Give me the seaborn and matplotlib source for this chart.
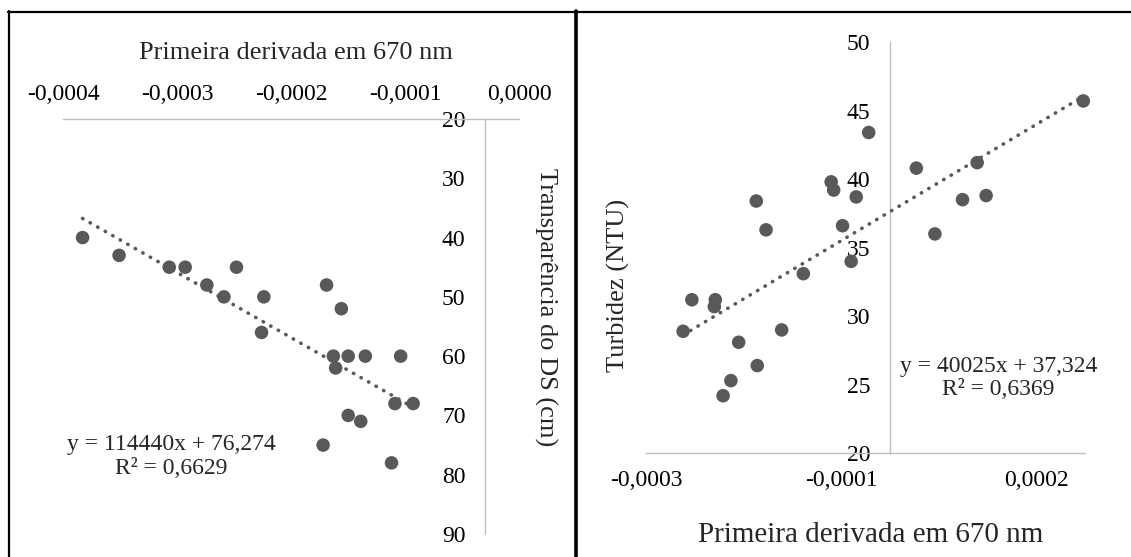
import numpy as np
import pandas as pd
import matplotlib
matplotlib.use("Agg")
import matplotlib.pyplot as plt
from matplotlib.lines import Line2D
import seaborn as sns

# ---------------- data ----------------
# Left panel: first derivative at 670 nm vs Secchi transparency (cm)
ds_deriv = [-0.000353, -0.000321, -0.000277, -0.000263, -0.000218, -0.000244,
            -0.000229, -0.000194, -0.000139, -0.000126, -0.000196, -0.000133,
            -0.000120, -0.000105, -0.000074, -0.000131, -0.000079, -0.000063,
            -0.000120, -0.000109, -0.000142, -0.000082]
ds_transp = [40, 43, 45, 45, 45, 48, 50, 50, 48, 52, 56, 60,
             60, 60, 60, 62, 68, 68, 70, 71, 75, 78]

# Right panel: first derivative at 670 nm vs turbidity (NTU)
tb_deriv = [-0.0000218, 0.000198, 0.000027, 0.0000893, -0.0000603, -0.0000577,
            -0.0000346, -0.000137, 0.0000743, 0.0000985, -0.000127, -0.0000486,
            0.000046, -0.0000398, -0.0000888, -0.000203, -0.000179, -0.000180,
            -0.000212, -0.000111, -0.000155, -0.000136, -0.000163, -0.000171]
tb_turb = [43.4, 45.7, 40.8, 41.2, 39.8, 39.2,
           38.7, 38.4, 38.5, 38.8, 36.3, 36.6,
           36.0, 34.0, 33.1, 31.2, 31.2, 30.7,
           28.9, 29.0, 28.1, 26.4, 25.3, 24.2]

left_xticks = [-0.00037, -0.00027, -0.00017, -0.00007, 0.00003]
left_xticklabels = ["-0,0004", "-0,0003", "-0,0002", "-0,0001", "0,0000"]
left_yticks = [20, 30, 40, 50, 60, 70, 80, 90]
right_xticks = [-0.00025, -0.00005, 0.00015]
right_xticklabels = ["-0,0003", "-0,0001", "0,0002"]
right_yticks = [20, 25, 30, 35, 40, 45, 50]

left_eq = "y = 114440x + 76,274\nR² = 0,6629"
right_eq = "y = 40025x + 37,324\nR² = 0,6369"
xlabel_txt = "Primeira derivada em 670 nm"
left_ylabel = "Transparência do DS (cm)"
right_ylabel = "Turbidez (NTU)"

df_l = pd.DataFrame({"x": ds_deriv, "y": ds_transp})
df_r = pd.DataFrame({"x": tb_deriv, "y": tb_turb})

# ---------------- style ----------------
sns.set_style("white")
plt.rcParams["font.family"] = ["Liberation Serif", "DejaVu Serif"]
plt.rcParams["axes.unicode_minus"] = False

W, H = 1131, 557
fig = plt.figure(figsize=(W / 100, H / 100), dpi=100)
fig.patch.set_facecolor("white")

PT = "#595959"
AX = "#BFBFBF"
TICK_FS = 17
LAB_FS = 19
dotted = (0, (0.1, 2.3))


def px_rect(x0, x1, ytop, ybot):
    return [x0 / W, 1 - ybot / H, (x1 - x0) / W, (ybot - ytop) / H]


# ---------------- left panel ----------------
axl = fig.add_axes(px_rect(63.2, 519.2, 119, 534))
sns.regplot(data=df_l, x="x", y="y", ax=axl, scatter=False, ci=None,
            color=PT, line_kws=dict(lw=2.6, ls=dotted, dash_capstyle="round", zorder=3))
sns.scatterplot(data=df_l, x="x", y="y", ax=axl, s=95, color=PT,
                edgecolor="none", zorder=4, clip_on=False)
axl.set_xlim(-0.00037, 0.00003)
axl.set_ylim(90, 20)
axl.xaxis.tick_top()
axl.set_xticks(left_xticks)
axl.set_xticklabels(left_xticklabels)
axl.set_yticks(left_yticks)
axl.tick_params(axis="x", length=0, pad=10, labelsize=TICK_FS, colors="black")
axl.tick_params(axis="y", length=0, pad=14, labelsize=TICK_FS, colors="black")
for s in ["bottom", "right"]:
    axl.spines[s].set_visible(False)
axl.spines["left"].set_position(("data", 0))
axl.spines["bottom"].set_visible(False)
for s in ["top", "left"]:
    axl.spines[s].set_color(AX)
    axl.spines[s].set_linewidth(1.0)
axl.set_xlabel(xlabel_txt, fontsize=LAB_FS)
axl.xaxis.set_label_position("top")
axl.xaxis.set_label_coords(0.5114, 1.158)
axl.xaxis.label.set_va("center")
axl.set_ylabel(left_ylabel, fontsize=LAB_FS, rotation=-90)
axl.yaxis.set_label_position("right")
axl.yaxis.set_label_coords(1.0577, 0.547)
axl.yaxis.label.set_va("center")
axl.text(0.2364, 0.187, left_eq, transform=axl.transAxes, ha="center", va="center",
         fontsize=TICK_FS, linespacing=1.14, multialignment="center")

# ---------------- right panel ----------------
axr = fig.add_axes(px_rect(646, 1085.2, 42, 453.3))
sns.regplot(data=df_r, x="x", y="y", ax=axr, scatter=False, ci=None,
            color=PT, line_kws=dict(lw=2.6, ls=dotted, dash_capstyle="round", zorder=3))
sns.scatterplot(data=df_r, x="x", y="y", ax=axr, s=95, color=PT,
                edgecolor="none", zorder=4, clip_on=False)
axr.set_xlim(-0.00025, 0.0002)
axr.set_ylim(20, 50)
axr.set_xticks(right_xticks)
axr.set_xticklabels(right_xticklabels)
axr.set_yticks(right_yticks)
axr.tick_params(axis="x", length=0, pad=12, labelsize=TICK_FS, colors="black")
axr.tick_params(axis="y", length=0, pad=14, labelsize=TICK_FS, colors="black")
for s in ["top", "right"]:
    axr.spines[s].set_visible(False)
axr.spines["left"].set_position(("data", 0))
for s in ["bottom", "left"]:
    axr.spines[s].set_color(AX)
    axr.spines[s].set_linewidth(1.0)
axr.set_xlabel(xlabel_txt, fontsize=21)
axr.xaxis.set_label_coords(0.5118, -0.1986)
axr.xaxis.label.set_va("center")
axr.set_ylabel(right_ylabel, fontsize=LAB_FS, rotation=90)
axr.yaxis.set_label_coords(-0.0631, 0.408)
axr.yaxis.label.set_va("center")
axr.text(0.8028, 0.1833, right_eq, transform=axr.transAxes, ha="center", va="center",
         fontsize=TICK_FS, linespacing=1.14, multialignment="center")

# ---------------- table borders ----------------
fig.add_artist(Line2D([8 / W, 1.0], [1 - 12 / H, 1 - 12 / H], transform=fig.transFigure,
                      color="black", lw=1.6))
fig.add_artist(Line2D([8.5 / W, 8.5 / W], [0, 1 - 11 / H], transform=fig.transFigure,
                      color="black", lw=1.6))
fig.add_artist(Line2D([576 / W, 576 / W], [0, 1 - 11 / H], transform=fig.transFigure,
                      color="black", lw=2.6))

fig.savefig("out.png", dpi=100)
